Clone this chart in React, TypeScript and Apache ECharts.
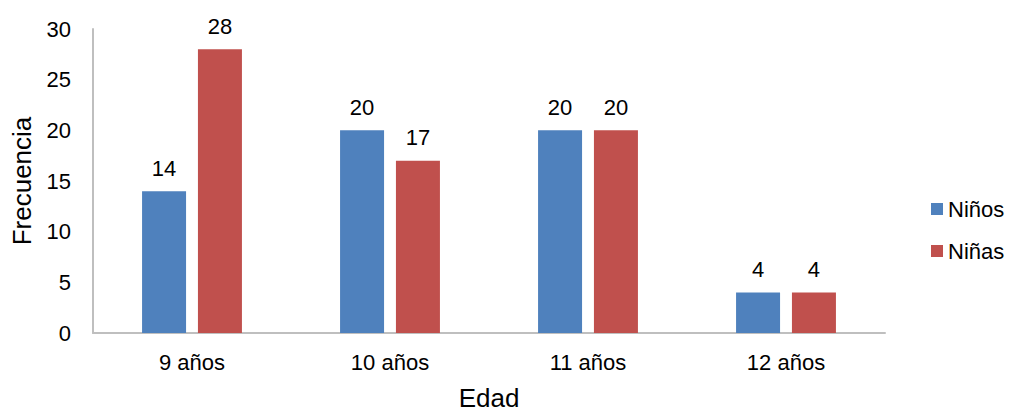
import React, { useEffect, useRef } from "react";
import * as echarts from "echarts";

const categories = ["9 años", "10 años", "11 años", "12 años"];
const ninos = [14, 20, 20, 4];
const ninas = [28, 17, 20, 4];
const seriesNames = ["Niños", "Niñas"];
const colors = ["#4F81BD", "#C0504D"];

const FONT = "Liberation Sans, Arial, sans-serif";

export default function App() {
  const ref = useRef<HTMLDivElement>(null);

  useEffect(() => {
    if (!ref.current) return;
    const chart = echarts.init(ref.current, null, { renderer: "svg" });
    const label = {
      show: true,
      position: "top" as const,
      distance: 12,
      color: "#000",
      fontSize: 22,
      fontFamily: FONT,
    };
    chart.setOption({
      animation: false,
      textStyle: { fontFamily: FONT },
      grid: { left: 93, right: 125, top: 29, bottom: 77, containLabel: false },
      legend: {
        orient: "vertical",
        left: 926,
        top: 193,
        itemWidth: 12,
        itemHeight: 12,
        itemGap: 20,
        icon: "rect",
        textStyle: { fontSize: 22, color: "#000", fontFamily: FONT },
        data: seriesNames,
      },
      xAxis: {
        type: "category",
        data: categories,
        name: "Edad",
        nameLocation: "middle",
        nameGap: 52,
        nameTextStyle: { fontSize: 26, color: "#000", fontFamily: FONT },
        axisLine: { lineStyle: { color: "#BFBFBF", width: 2 } },
        axisTick: { show: false },
        axisLabel: { fontSize: 22, color: "#000", margin: 18, fontFamily: FONT },
      },
      yAxis: {
        type: "value",
        min: 0,
        max: 30,
        interval: 5,
        name: "Frecuencia",
        nameLocation: "middle",
        nameGap: 58,
        nameTextStyle: { fontSize: 26, color: "#000", fontFamily: FONT },
        axisLine: { show: true, lineStyle: { color: "#BFBFBF", width: 2 } },
        axisTick: { show: false },
        splitLine: { show: false },
        axisLabel: { fontSize: 22, color: "#000", margin: 22, fontFamily: FONT },
      },
      series: [
        {
          name: seriesNames[0],
          type: "bar",
          data: ninos,
          barWidth: 44,
          barGap: "27%",
          itemStyle: { color: colors[0] },
          label,
        },
        {
          name: seriesNames[1],
          type: "bar",
          data: ninas,
          barWidth: 44,
          barGap: "27%",
          itemStyle: { color: colors[1] },
          label,
        },
      ],
    });
    return () => chart.dispose();
  }, []);

  return (
    <div
      ref={ref}
      style={{ position: "absolute", left: 0, top: 0, width: 1010, height: 416 }}
    />
  );
}
